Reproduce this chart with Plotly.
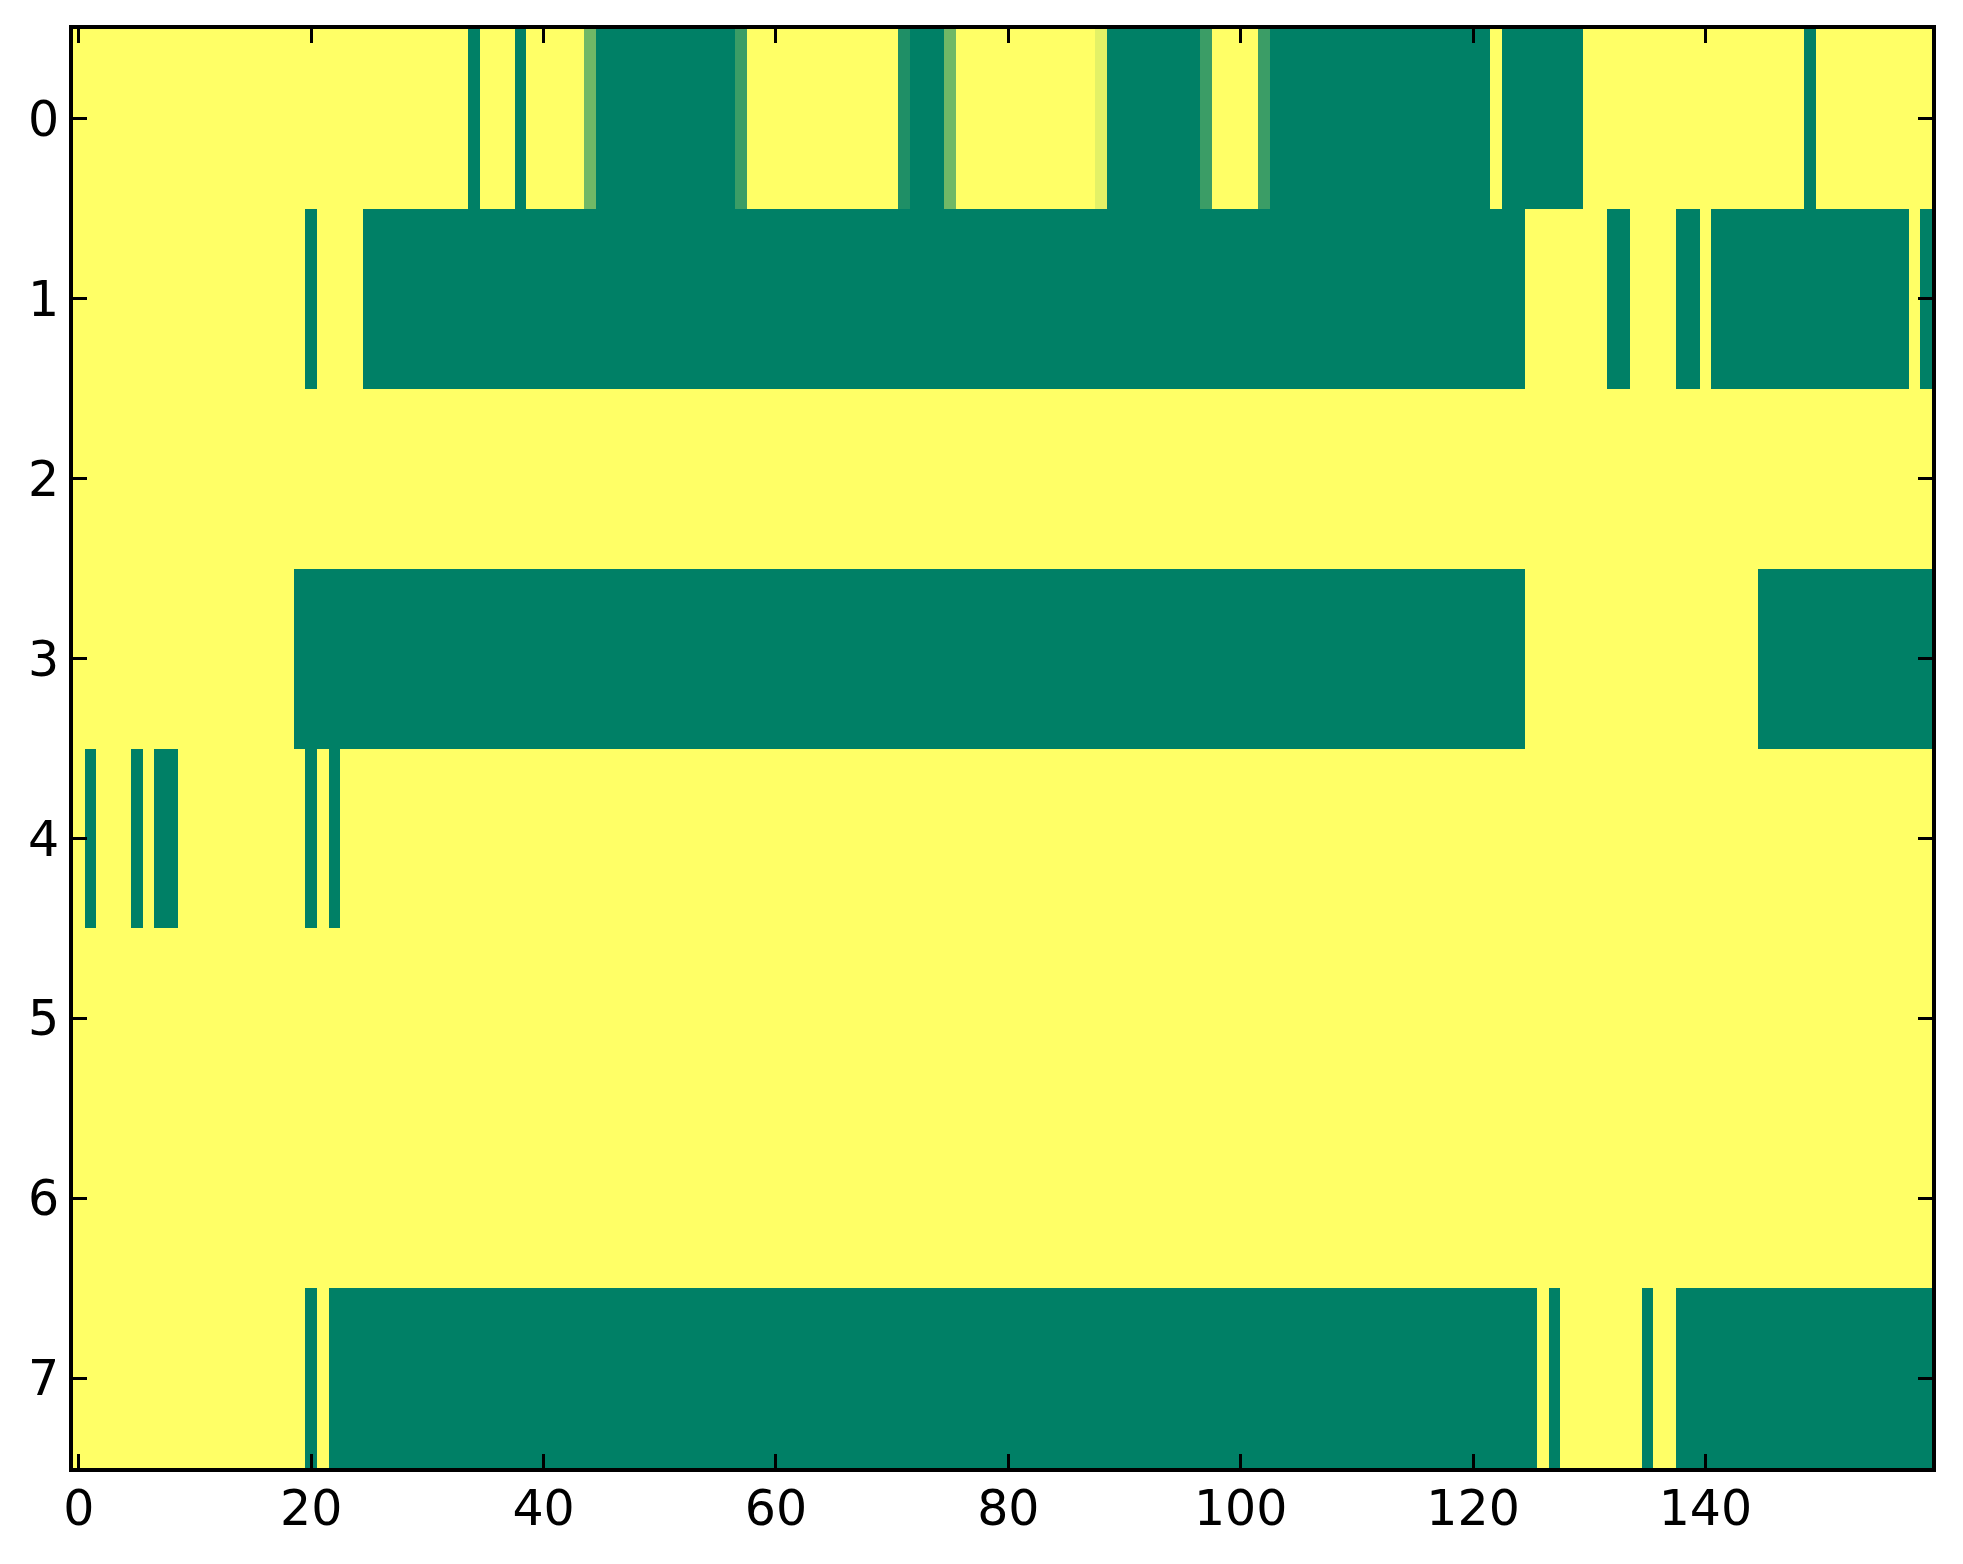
"""
Binary state heatmap (summer colormap), 8 rows x 160 columns.
"""
import plotly.graph_objects as go

N_COLS = 160
ROW_LABELS = [0, 1, 2, 3, 4, 5, 6, 7]
X_TICKS = [0, 20, 40, 60, 80, 100, 120, 140]

# each row written as (value, run length) pairs, read left to right
row0 = [(1, 34), (0, 1), (1, 3), (0, 1), (1, 5), (0.44, 1), (0, 12), (0.23, 1),
        (1, 13), (0.12, 1), (0, 3), (0.44, 1), (1, 12), (0.89, 1), (0, 8), (0.23, 1),
        (1, 4), (0.23, 1), (0, 19), (1, 1), (0, 7), (1, 19), (0, 1), (1, 10)]
row1 = [(1, 20), (0, 1), (1, 4), (0, 100), (1, 7), (0, 2), (1, 4), (0, 2),
        (1, 1), (0, 17), (1, 1), (0, 1)]
row2 = [(1, 160)]
row3 = [(1, 19), (0, 106), (1, 20), (0, 15)]
row4 = [(1, 1), (0, 1), (1, 3), (0, 1), (1, 1), (0, 2), (1, 11), (0, 1),
        (1, 1), (0, 1), (1, 137)]
row5 = [(1, 160)]
row6 = [(1, 160)]
row7 = [(1, 20), (0, 1), (1, 1), (0, 104), (1, 1), (0, 1), (1, 7), (0, 1),
        (1, 2), (0, 22)]

ROWS = [row0, row1, row2, row3, row4, row5, row6, row7]


def expand(runs):
    out = []
    for val, n in runs:
        out.extend([val] * n)
    return out


z = [expand(r) for r in ROWS]

# matplotlib "summer": (v, 0.5 + v/2, 0.4)
summer = [[0.0, "rgb(0,128,102)"], [1.0, "rgb(255,255,102)"]]

fig = go.Figure(go.Heatmap(
    z=z,
    x=list(range(N_COLS)),
    y=ROW_LABELS,
    colorscale=summer,
    zmin=0,
    zmax=1,
    showscale=False,
    hoverinfo="skip",
))

axis_common = dict(
    showline=True,
    linecolor="black",
    linewidth=4,
    mirror="ticks",
    ticks="inside",
    ticklen=14,
    tickwidth=2.5,
    tickcolor="black",
    showgrid=False,
    zeroline=False,
    tickfont=dict(family="DejaVu Sans", size=49, color="black"),
)

fig.update_xaxes(range=[-0.5, N_COLS - 0.5], tickvals=X_TICKS,
                 ticklabelstandoff=-6, **axis_common)
fig.update_yaxes(range=[7.5, -0.5], tickvals=ROW_LABELS, **axis_common)

# page body adds an 8px margin, so the margins are shifted to compensate
fig.update_layout(
    width=1963,
    height=1564,
    margin=dict(l=65, r=39, t=21, b=104),
    paper_bgcolor="white",
    plot_bgcolor="white",
)

fig.write_html("out.html")
